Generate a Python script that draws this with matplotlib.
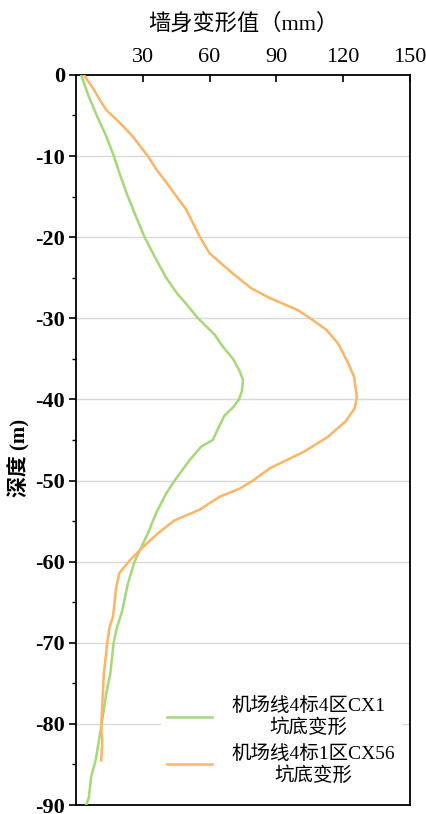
import matplotlib
matplotlib.use("Agg")
import matplotlib.pyplot as plt
from matplotlib.ticker import MultipleLocator

plt.rcParams['font.family'] = ['Liberation Serif', 'Noto Sans CJK SC', 'DejaVu Sans']
plt.rcParams['axes.unicode_minus'] = False

green_depth = [0, -2.5, -5, -7.5, -10, -12.5, -15, -17.5, -20, -22.5, -25, -27, -28, -30, -32,
               -33.5, -35, -36.5, -37.6, -39, -40, -41, -42, -43.5, -45, -45.8, -47.5, -50,
               -51.6, -54, -56.5, -58.4, -60, -62.7, -66, -68.4, -70, -73.8, -76.2, -80.4,
               -84.5, -86.5, -89, -90]
green_val = [2.3, 5.5, 9.3, 13.5, 17.0, 20.0, 23.3, 27.0, 30.8, 35.5, 40.5, 45.6, 48.8, 54.8, 62.2,
             66.0, 70.5, 73.5, 75.0, 74.5, 73.2, 70.5, 66.7, 64.0, 61.5, 56.3, 51.0, 44.3,
             40.5, 36.0, 32.3, 29.0, 26.3, 23.3, 20.8, 18.1, 16.9, 15.4, 13.6, 11.3,
             8.8, 6.8, 5.8, 4.6]

orange_depth = [0, -1.8, -3.0, -4.3, -6, -7.6, -10.1, -11.5, -13.8, -16.6, -19.9, -22, -24.5, -26.3,
                -27.5, -29, -30.1, -31.4, -33.1, -35.5, -37.2, -39.7, -41.1, -42.7, -44.6,
                -46.4, -48.5, -50, -51, -52, -53.6, -54.9, -56.5, -58.4, -60.1, -61.4, -63.1,
                -66.8, -68, -70.1, -73.8, -80.4, -82, -84.5]
orange_val = [3.5, 8.0, 10.5, 13.5, 20.0, 25.5, 32.5, 35.7, 42.0, 49.5, 55.5, 60.0, 70.5, 78.7,
              87.0, 99.7, 105.7, 112.4, 117.7, 122.2, 124.9, 126.2, 125.2, 121.1, 113.2,
              102.7, 87.0, 79.5, 73.5, 64.5, 55.5, 44.3, 36.8, 29.3, 23.3, 19.5, 18.1,
              16.6, 15.1, 14.0, 12.5, 11.3, 11.8, 11.3]

labels = ['机场线4标4区CX1\n坑底变形', '机场线4标1区CX56\n坑底变形']
xticks = [30, 60, 90, 120, 150]
yticks = [0, -10, -20, -30, -40, -50, -60, -70, -80, -90]

fig = plt.figure(figsize=(4.27, 8.14), dpi=100)
ax = fig.add_axes([0.178, 0.011, 0.782, 0.897])

ax.plot(green_val, green_depth, color='#a5d877', lw=1.8, label=labels[0], zorder=3)
ax.plot(orange_val, orange_depth, color='#fdb465', lw=1.8, label=labels[1], zorder=3)

ax.set_xlim(0, 150)
ax.set_ylim(-90, 0)
ax.xaxis.tick_top()
ax.xaxis.set_label_position('top')
ax.set_xticks(xticks)
ax.set_yticks(yticks)
ax.yaxis.set_minor_locator(MultipleLocator(5))
ax.tick_params(axis='x', direction='in', length=5, width=1.2, labelsize=16, pad=6)
ax.tick_params(axis='y', which='major', direction='out', length=5, width=1.2, labelsize=16, pad=3)
ax.tick_params(axis='y', which='minor', direction='out', length=3, width=1.0)
for lab in ax.get_yticklabels():
    lab.set_fontweight('bold')

for y in yticks[1:-1]:
    ax.axhline(y, color='#d8d8d8', lw=1.0, zorder=1)

for s in ax.spines.values():
    s.set_linewidth(1.3)

ax.set_xlabel('墙身变形值（mm）', fontsize=16, labelpad=13)
ax.set_ylabel('深度 (m)', fontsize=15, fontweight='bold', labelpad=4)
ax.yaxis.set_label_coords(-0.135, 0.475)

leg = ax.legend(loc='lower right', bbox_to_anchor=(0.99, 0.012), frameon=True, fancybox=False,
                framealpha=1, edgecolor='white', fontsize=14, handlelength=2.3,
                handletextpad=1.0, borderaxespad=0.3, labelspacing=0.4, borderpad=0.3)
for t in leg.get_texts():
    t.set_multialignment('center')
leg.set_zorder(5)

fig.savefig('out.png', dpi=100)
